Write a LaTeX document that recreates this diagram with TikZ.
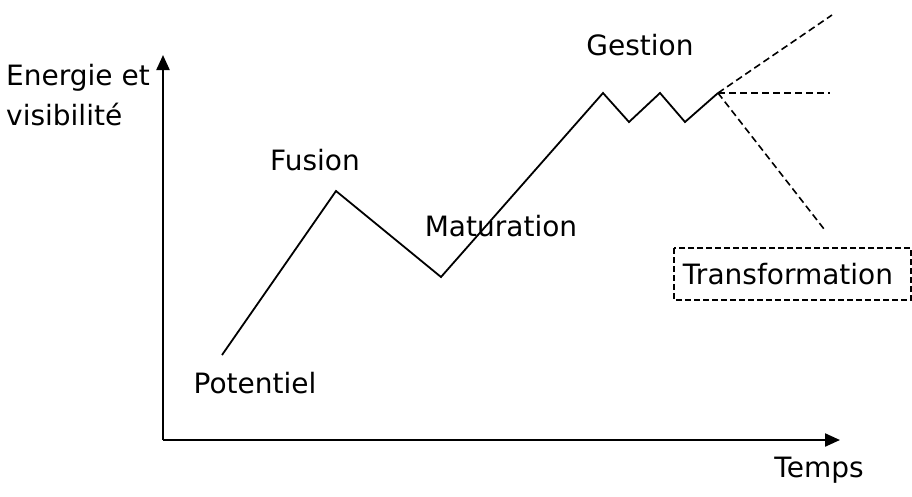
\documentclass[tikz,border=0pt]{standalone}
\usepackage{fontspec}
\setmainfont{DejaVu Sans}
\usetikzlibrary{arrows.meta}
\tikzset{
  lbl/.style={font=\fontsize{28}{40}\selectfont, inner sep=0pt},
  axis/.style={line width=2.2pt, -{Triangle[length=15pt,width=13pt]}},
  phase/.style={line width=1.8pt, line join=miter},
  future/.style={line width=1.6pt, dash pattern=on 7pt off 4pt}
}
\begin{document}
\begin{tikzpicture}[x=1pt,y=-1pt]
  \useasboundingbox (0,0) rectangle (912,496);
  % axes
  \coordinate (O) at (163,440);
  \coordinate (ytop) at (163,55);
  \coordinate (xend) at (840,440);
  \draw[axis] (O) -- (ytop);
  \draw[axis] (O) -- (xend);
  \node[lbl, align=left, anchor=west] (yl) at (6,95) {Energie et\\visibilité};
  \node[lbl] (xl) at (819,470) {Temps};
  % cycle points
  \coordinate (p0) at (222,355);
  \coordinate (p1) at (336,191);
  \coordinate (p2) at (441,277);
  \coordinate (p3) at (603,93);
  \coordinate (p4) at (629,122);
  \coordinate (p5) at (660,93);
  \coordinate (p6) at (685,122);
  \coordinate (p7) at (718,93);
  \draw[phase] (p0) -- (p1) -- (p2) -- (p3) -- (p4) -- (p5) -- (p6) -- (p7);
  % possible futures
  \coordinate (up) at (832,15);
  \coordinate (flat) at (830,93);
  \coordinate (down) at (824,229);
  \draw[future] (p7) -- (up);
  \draw[future] (p7) -- (flat);
  \draw[future] (p7) -- (down);
  % phase names
  \node[lbl] (pot) at (255,383) {Potentiel};
  \node[lbl] (fus) at (315,160) {Fusion};
  \node[lbl] (mat) at (501,226) {Maturation};
  \node[lbl] (ges) at (640,45) {Gestion};
  \draw[line width=1.4pt, dash pattern=on 6pt off 3pt] (674,248) rectangle (911,300);
  \node[lbl] (tra) at (788,274) {Transformation};
\end{tikzpicture}
\end{document}
